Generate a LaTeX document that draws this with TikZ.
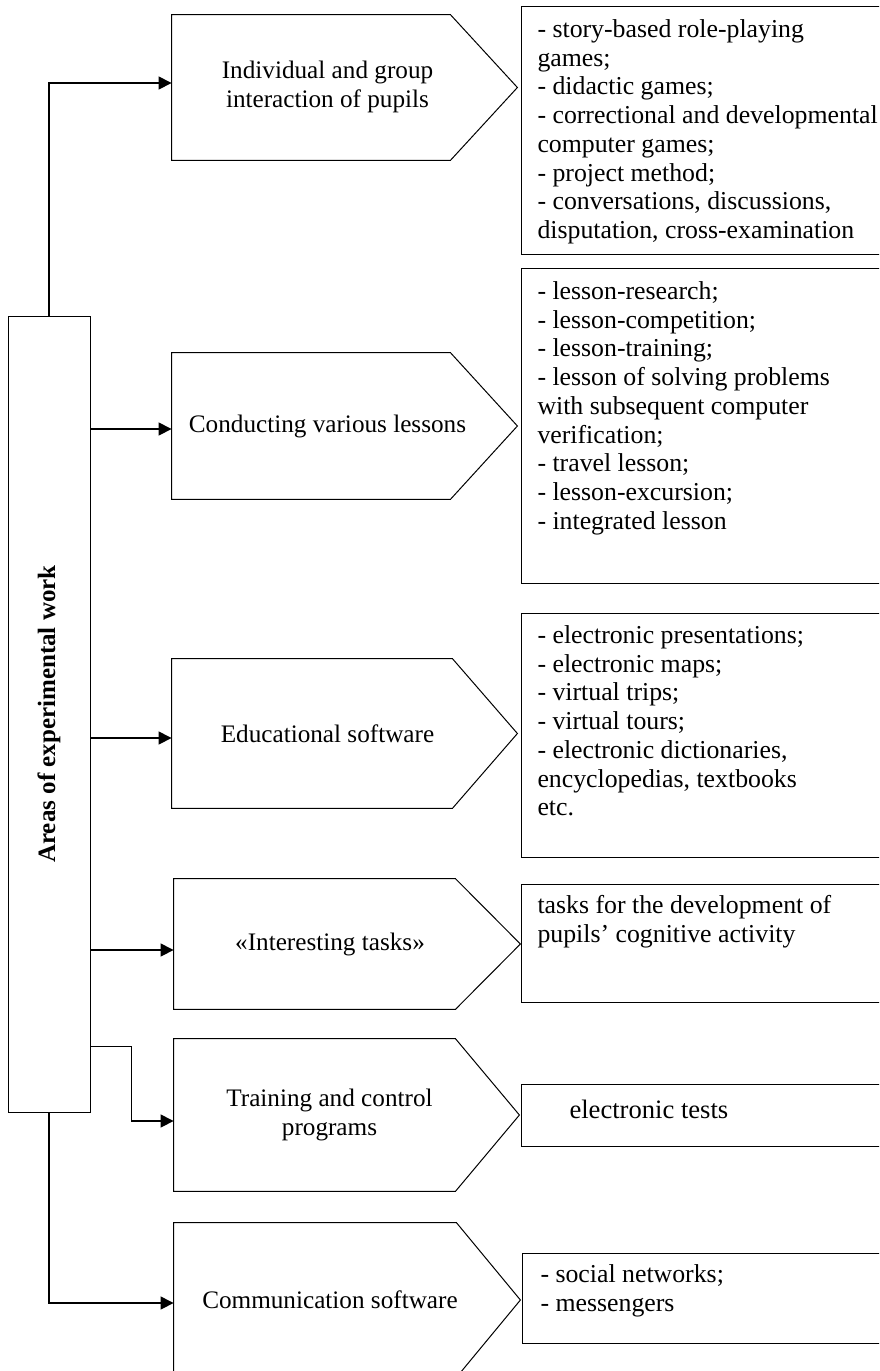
\documentclass[tikz,border=0pt]{standalone}
\usepackage{fontspec}
\setmainfont{Liberation Serif}
\usepackage{graphicx}
\usetikzlibrary{arrows.meta,calc}
\newcommand{\boxlines}[4]{%
  \parbox[c][#1][t]{189.5pt}{\fontsize{12.9pt}{14.35pt}\selectfont\raggedright\leftskip=#3\relax\rule{0pt}{#2}#4}}
\tikzset{
  outline/.style={draw, line width=0.5pt, line join=miter},
  mainbox/.style={draw, line width=0.5pt, minimum width=41pt, minimum height=398pt, inner sep=0pt},
  pent/.style={inner sep=0pt, font=\fontsize{12.6pt}{14.5pt}\selectfont},
  listbox/.style={draw, line width=0.5pt, inner sep=0pt, anchor=north west},
  arr/.style={line width=0.6pt, -{Triangle[length=6.5pt,width=6.5pt]}},
}
\begin{document}
\begin{tikzpicture}[x=0.5pt,y=-0.5pt]
\useasboundingbox (0,0) rectangle (879,1371);
\clip (0,0) rectangle (879,1371);
\fill[white] (0,0) rectangle (879,1371);

% main box
\node[mainbox] (main) at (49,714) {\rotatebox{90}{\fontsize{12.5pt}{14.5pt}\selectfont\bfseries Areas of experimental work}};

% pentagons (text nodes)
\node[pent, minimum width=172.5pt, minimum height=72.5pt] (p1) at (344.5,87.5)
  {\begin{tabular}{@{}c@{}}Individual and group\\interaction of pupils\end{tabular}\hspace*{17pt}};
\node[pent, minimum width=172.5pt, minimum height=73pt] (p2) at (344.5,426)
  {Conducting various lessons\hspace*{17pt}};
\node[pent, minimum width=172.5pt, minimum height=74.5pt] (p3) at (344.5,733.5)
  {Educational software\hspace*{17pt}};
\node[pent, minimum width=173pt, minimum height=65pt] (p4) at (347,944)
  {«Interesting tasks»\hspace*{17pt}};
\node[pent, minimum width=172.5pt, minimum height=76pt] (p5) at (346.5,1115)
  {\begin{tabular}{@{}c@{}}Training and control\\programs\end{tabular}\hspace*{17pt}};
\node[pent, minimum width=173pt, minimum height=77pt] (p6) at (347,1300)
  {Communication software\hspace*{17pt}};

\foreach \p/\d in {p1/33.5, p2/33.5, p3/32.5, p4/32.5, p5/32, p6/32}
  \draw[outline] (\p.north west) -- ([xshift=-\d pt]\p.north east) -- (\p.east)
    -- ([xshift=-\d pt]\p.south east) -- (\p.south west) -- cycle;

% list boxes
\node[listbox] (b1) at (521,6) {\boxlines{124pt}{15.5pt}{8pt}{%
- story-based role-playing\\games;\\- didactic games;\\- correctional and developmental\\computer games;\\- project method;\\- conversations, discussions,\\disputation, cross-examination}};
\node[listbox] (b2) at (521,268) {\boxlines{157.5pt}{15.5pt}{8pt}{%
- lesson-research;\\- lesson-competition;\\- lesson-training;\\- lesson of solving problems\\with subsequent computer\\verification;\\- travel lesson;\\- lesson-excursion;\\- integrated lesson}};
\node[listbox] (b3) at (521,613) {\boxlines{122pt}{15pt}{8pt}{%
- electronic presentations;\\- electronic maps;\\- virtual trips;\\- virtual tours;\\- electronic dictionaries,\\encyclopedias, textbooks\\etc.}};
\node[listbox] (b4) at (521,884) {\boxlines{59pt}{14.5pt}{8pt}{%
tasks for the development of\\pupils’ cognitive activity}};
\node[listbox] (b5) at (521,1084) {\boxlines{31pt}{17pt}{24pt}{%
\fontsize{13.3pt}{14pt}\selectfont electronic tests}};
\node[listbox] (b6) at (522,1253) {\boxlines{45pt}{14.5pt}{9pt}{%
- social networks;\\- messengers}};

% connectors
\coordinate (a1) at ([yshift=2.25pt]p1.west);
\coordinate (a2) at ([yshift=-1.5pt]p2.west);
\coordinate (a3) at ([yshift=-2.25pt]p3.west);
\coordinate (a4) at ([yshift=-3pt]p4.west);
\coordinate (a5) at ([yshift=-3pt]p5.west);
\coordinate (a6) at ([yshift=-1.5pt]p6.west);
\coordinate (s5) at ([yshift=33pt]main.south east);
\coordinate (k5) at ([xshift=20.5pt]s5);

\draw[arr] (main.north) |- (a1);
\draw[arr] (main.east |- a2) -- (a2);
\draw[arr] (main.east |- a3) -- (a3);
\draw[arr] (main.east |- a4) -- (a4);
\draw[arr] (s5) -- (k5) |- (a5);
\draw[arr] (main.south) |- (a6);
\end{tikzpicture}
\end{document}
